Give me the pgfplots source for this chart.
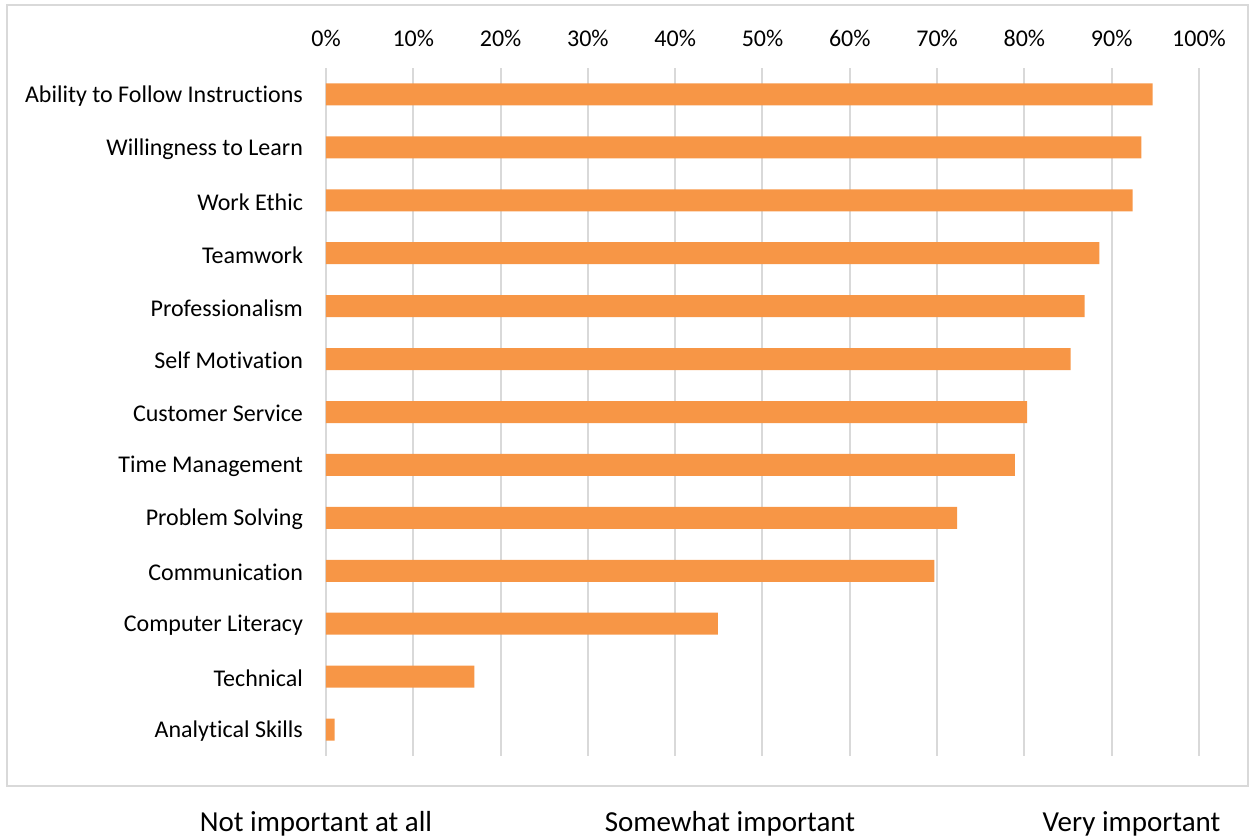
\documentclass[border=0pt]{standalone}
\usepackage{pgfplots}
\pgfplotsset{compat=1.18}
\usepackage{fontspec}
\setmainfont{Carlito}[Ligatures={NoCommon}]
\definecolor{barorange}{HTML}{F79646}
\definecolor{gridgray}{HTML}{D9D9D9}
\begin{document}
\begin{tikzpicture}[x=1pt,y=1pt]
\useasboundingbox (-163,-40.5) rectangle (462,378);
\draw[gridgray, line width=1pt] (-159.5,-15) rectangle (461,375.5);
\begin{axis}[at={(0,0)}, anchor=south west, scale only axis,
  width=436.5pt, height=344pt,
  xbar, bar width=11pt,
  xmin=0, xmax=100, ymin=-0.5, ymax=12.5, y dir=reverse,
  axis line style={draw=none}, major tick length=0pt,
  xtick={0,10,...,100}, xticklabel pos=upper,
  xticklabel={\pgfmathprintnumber{\tick}\%},
  x tick label style={/pgf/number format/assume math mode=true, font=\fontsize{12}{14}\selectfont, yshift=7pt},
  ytick={0,...,12},
  yticklabels={Ability to Follow Instructions, Willingness to Learn, Work Ethic, Teamwork, Professionalism, Self Motivation, Customer Service, Time Management, Problem Solving, Communication, Computer Literacy, Technical, Analytical Skills},
  y tick label style={font=\fontsize{12}{14}\selectfont, xshift=-8pt, yshift=-0.8pt},
  xmajorgrids, grid style={gridgray, line width=1pt},
  clip=false]
\addplot[fill=barorange, draw=none] coordinates {
(94.7,0) (93.4,1) (92.4,2) (88.6,3) (86.9,4) (85.3,5) (80.3,6) (78.9,7) (72.3,8) (69.7,9) (44.9,10) (17.0,11) (1.0,12)};
\end{axis}
\node[anchor=base, font=\fontsize{14.5}{17}\selectfont] at (-5,-37.5) {Not important at all};
\node[anchor=base, font=\fontsize{14.5}{17}\selectfont] at (202,-37.5) {Somewhat important};
\node[anchor=base, font=\fontsize{14.5}{17}\selectfont] at (402.75,-37.5) {Very important};
\end{tikzpicture}
\end{document}
